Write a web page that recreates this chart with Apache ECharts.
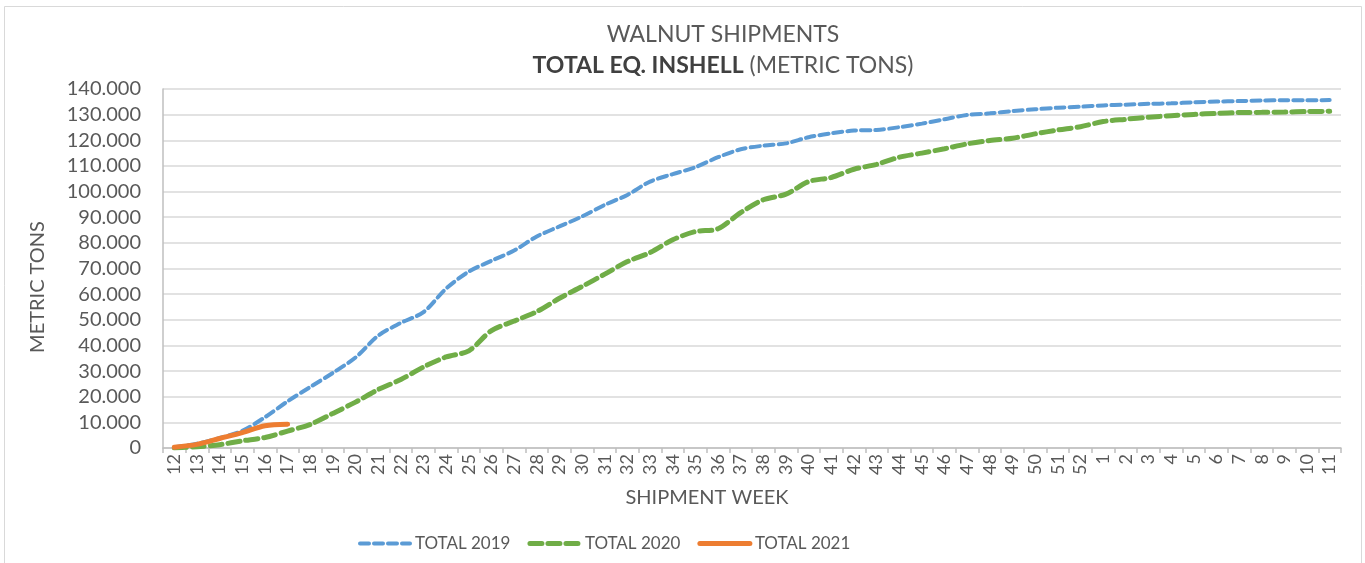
<!DOCTYPE html>
<html>
<head>
<meta charset="utf-8">
<title>Walnut shipments</title>
<script src="https://cdn.jsdelivr.net/npm/echarts@6/dist/echarts.min.js"></script>
<style>
  html, body {
    margin: 0;
    padding: 0;
    background: #fff;
  }
  #walnut-chart {
    width: 1365px;
    height: 563px;
  }
</style>
</head>
<body>
<div id="walnut-chart"></div>
<script>
// shipment weeks, season runs from week 12 to week 11 of next year
const weeks = ['12', '13', '14', '15', '16', '17', '18', '19', '20', '21', '22', '23', '24', '25', '26',
  '27', '28', '29', '30', '31', '32', '33', '34', '35', '36', '37', '38', '39', '40', '41', '42', '43',
  '44', '45', '46', '47', '48', '49', '50', '51', '52', '1', '2', '3', '4', '5', '6', '7', '8', '9', '10', '11'];

// cumulative metric tons
const total2019 = [300, 1700, 3900, 6700, 12000, 18200, 23800, 29300, 35300, 43800, 48800, 53000, 62200,
  68800, 73000, 77000, 82500, 86400, 90300, 94800, 98700, 103900, 106800, 109500, 113400, 116500, 117900,
  118800, 121200, 122700, 123800, 124000, 125100, 126500, 128200, 129900, 130500, 131400, 132100, 132700,
  133100, 133600, 133900, 134200, 134400, 134800, 135100, 135300, 135500, 135600, 135600, 135700];

const total2020 = [0, 500, 1300, 2800, 4100, 6600, 9200, 13500, 17900, 22800, 26700, 31600, 35500, 37900,
  45800, 49500, 53200, 58400, 63000, 67800, 72700, 76200, 81200, 84400, 85500, 91800, 96800, 99000, 103900,
  105500, 108700, 110600, 113400, 115000, 116700, 118600, 119900, 120800, 122500, 124000, 125300, 127300,
  128200, 129000, 129600, 130100, 130500, 130800, 130900, 131000, 131200, 131300];

const total2021 = [300, 1400, 3700, 6000, 8700, 9300];

const seriesNames = ['TOTAL 2019', 'TOTAL 2020', 'TOTAL 2021'];

const yMin = 0;
const yMax = 140000;
const yStep = 10000;

const fontFamily = 'Lato, "Open Sans", sans-serif';
const textColor = '#595959';

const lineStyles = [
  {width: 4, type: [9, 5], cap: 'round', color: '#5b9bd5'},
  {width: 5, type: [12, 6], cap: 'round', color: '#70ad47'},
  {width: 5, type: 'solid', cap: 'round', color: '#ed7d31'},
];

// 140000 -> "140.000"
const formatTons = (value) => {
  if (value === 0) return '0';
  return (value / 1000) + '.000';
};

const chart = echarts.init(document.getElementById('walnut-chart'), null, {renderer: 'canvas'});

const option = {
  backgroundColor: '#fff',
  animation: false,
  textStyle: {fontFamily: fontFamily, color: textColor},
  title: {
    left: 718,
    top: 18,
    textAlign: 'center',
    text: 'WALNUT SHIPMENTS',
    textStyle: {fontFamily: fontFamily, fontSize: 23, fontWeight: 'normal', color: textColor},
    subtext: '{b|TOTAL EQ. INSHELL} (METRIC TONS)',
    itemGap: 8,
    subtextStyle: {
      fontFamily: fontFamily,
      fontSize: 23,
      color: textColor,
      rich: {
        b: {fontFamily: fontFamily, fontSize: 23, fontWeight: 'bold', color: '#404040'},
      },
    },
  },
  legend: {
    // line sample only, hide the symbol dot
    data: seriesNames.map((name, i) => ({
      name: name,
      itemStyle: {opacity: 0},
      lineStyle: lineStyles[i],
    })),
    left: 353,
    top: 530,
    itemWidth: 50,
    itemHeight: 14,
    itemGap: 17,
    textStyle: {fontFamily: fontFamily, fontSize: 17, color: textColor},
  },
  grid: {
    left: 163,
    right: 24,
    top: 89,
    bottom: 115,
  },
  graphic: [
    {
      type: 'rect',
      silent: true,
      shape: {x: 4.5, y: 6.5, width: 1357, height: 560},
      style: {fill: 'none', stroke: '#d9d9d9', lineWidth: 1},
    },
    {
      type: 'text',
      silent: true,
      x: 38,
      y: 287,
      rotation: Math.PI / 2,
      style: {
        text: 'METRIC TONS',
        fontFamily: fontFamily,
        fontSize: 20,
        fill: textColor,
        align: 'center',
        verticalAlign: 'middle',
      },
    },
    {
      type: 'text',
      silent: true,
      x: 707,
      y: 498,
      style: {
        text: 'SHIPMENT WEEK',
        fontFamily: fontFamily,
        fontSize: 20,
        fill: textColor,
        align: 'center',
        verticalAlign: 'middle',
      },
    },
  ],
  xAxis: {
    type: 'category',
    data: weeks,
    boundaryGap: true,
    axisLine: {lineStyle: {color: '#bfbfbf', width: 1.5}},
    axisTick: {show: true, length: 5, lineStyle: {color: '#bfbfbf', width: 1.5}},
    axisLabel: {
      interval: 0,
      rotate: 90,
      margin: 6,
      fontFamily: fontFamily,
      fontSize: 18,
      color: textColor,
    },
  },
  yAxis: {
    type: 'value',
    min: yMin,
    max: yMax,
    interval: yStep,
    axisLine: {show: true, lineStyle: {color: '#bfbfbf', width: 1.5}},
    axisTick: {show: false},
    splitLine: {lineStyle: {color: '#d9d9d9', width: 1.5}},
    axisLabel: {
      margin: 22,
      fontFamily: fontFamily,
      fontSize: 20,
      color: textColor,
      formatter: formatTons,
    },
  },
  series: [
    {
      name: seriesNames[0],
      type: 'line',
      data: total2019,
      smooth: 0.3,
      showSymbol: false,
      symbol: 'none',
      color: '#5b9bd5',
      lineStyle: lineStyles[0],
      z: 3,
    },
    {
      name: seriesNames[1],
      type: 'line',
      data: total2020,
      smooth: 0.3,
      showSymbol: false,
      symbol: 'none',
      color: '#70ad47',
      lineStyle: lineStyles[1],
      z: 2,
    },
    {
      name: seriesNames[2],
      type: 'line',
      data: total2021,
      smooth: 0.3,
      showSymbol: false,
      symbol: 'none',
      color: '#ed7d31',
      lineStyle: lineStyles[2],
      z: 4,
    },
  ],
};

chart.setOption(option);
</script>
</body>
</html>
